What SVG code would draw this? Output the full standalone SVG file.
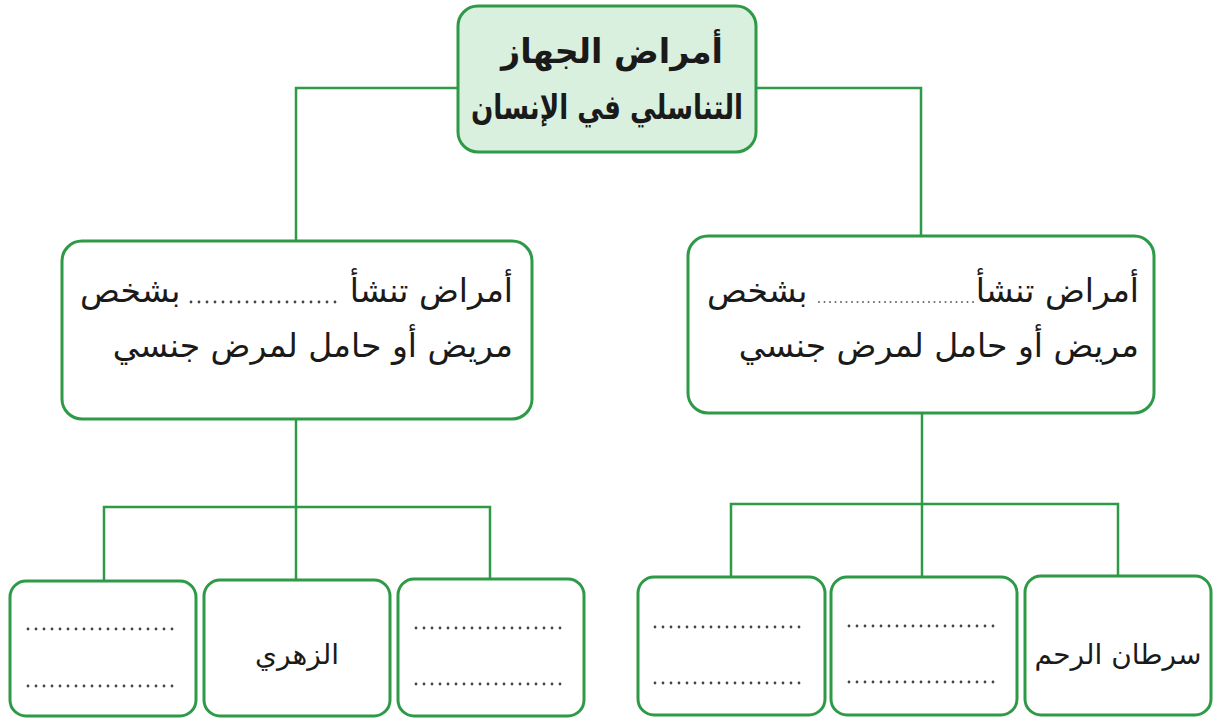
<svg xmlns="http://www.w3.org/2000/svg" width="1217" height="721" viewBox="0 0 1217 721">
<style>
.box{fill:#ffffff;stroke:#2e9a47;stroke-width:3}
.title{fill:#d9f0df;stroke:#2e9a47;stroke-width:3}
.conn{fill:none;stroke:#2e9a47;stroke-width:2.5}
.dots{stroke:#444;stroke-width:2.8;stroke-linecap:round;stroke-dasharray:0 8}
.fine{stroke:#666;stroke-width:2;stroke-linecap:round;stroke-dasharray:0 5.5}
.t{font-family:"DejaVu Sans",sans-serif;fill:#1a1a1a}
.tt{font-family:"DejaVu Sans",sans-serif;font-weight:bold;font-size:34px;fill:#1a1a1a}
.m{font-size:33px}
.s{font-size:28px}
</style>
<rect width="1217" height="721" fill="#ffffff"/>
<g id="connectors">
<path class="conn" d="M296 241 V88 H458"/>
<path class="conn" d="M756 88 H921 V236"/>
<path class="conn" d="M296 419 V580"/>
<path class="conn" d="M104 582 V507 H490 V579"/>
<path class="conn" d="M922 413 V577"/>
<path class="conn" d="M731 578 V504 H1118 V577"/>
</g>
<g id="root">
<rect class="title" x="458" y="6" width="298" height="146" rx="20"/>
<text class="tt" x="612" y="63" text-anchor="middle" textLength="222" lengthAdjust="spacingAndGlyphs">أمراض الجهاز</text>
<text class="tt" x="607" y="119" text-anchor="middle" textLength="272" lengthAdjust="spacingAndGlyphs">التناسلي في الإنسان</text>
</g>
<g id="mid-left">
<rect class="box" x="62" y="241" width="470" height="178" rx="20"/>
<text class="t m" x="513" y="302" text-anchor="end">أمراض تنشأ</text>
<line class="dots" x1="191" y1="302" x2="339" y2="302"/>
<text class="t m" x="80" y="302">بشخص</text>
<text class="t m" x="513" y="357" text-anchor="end">مريض أو حامل لمرض جنسي</text>
</g>
<g id="mid-right">
<rect class="box" x="688" y="236" width="466" height="177" rx="20"/>
<text class="t m" x="1139" y="302" text-anchor="end">أمراض تنشأ</text>
<line class="fine" x1="819" y1="302" x2="976" y2="302"/>
<text class="t m" x="707" y="302">بشخص</text>
<text class="t m" x="1139" y="357" text-anchor="end">مريض أو حامل لمرض جنسي</text>
</g>
<g id="leaf-l1">
<rect class="box" x="10" y="581" width="186" height="135" rx="16"/>
<line class="dots" x1="28" y1="629" x2="178" y2="629"/>
<line class="dots" x1="28" y1="686" x2="178" y2="686"/>
</g>
<g id="leaf-l2">
<rect class="box" x="204" y="580" width="186" height="136" rx="16"/>
<text class="t s" x="297" y="664" text-anchor="middle">الزهري</text>
</g>
<g id="leaf-l3">
<rect class="box" x="398" y="579" width="186" height="137" rx="16"/>
<line class="dots" x1="416" y1="628" x2="566" y2="628"/>
<line class="dots" x1="416" y1="684" x2="566" y2="684"/>
</g>
<g id="leaf-r1">
<rect class="box" x="638" y="577" width="187" height="138" rx="16"/>
<line class="dots" x1="655" y1="627" x2="807" y2="627"/>
<line class="dots" x1="655" y1="683" x2="807" y2="683"/>
</g>
<g id="leaf-r2">
<rect class="box" x="831" y="577" width="186" height="138" rx="16"/>
<line class="dots" x1="849" y1="626" x2="999" y2="626"/>
<line class="dots" x1="849" y1="682" x2="999" y2="682"/>
</g>
<g id="leaf-r3">
<rect class="box" x="1025" y="576" width="186" height="139" rx="16"/>
<text class="t s" x="1118" y="664" text-anchor="middle">سرطان الرحم</text>
</g>
</svg>
